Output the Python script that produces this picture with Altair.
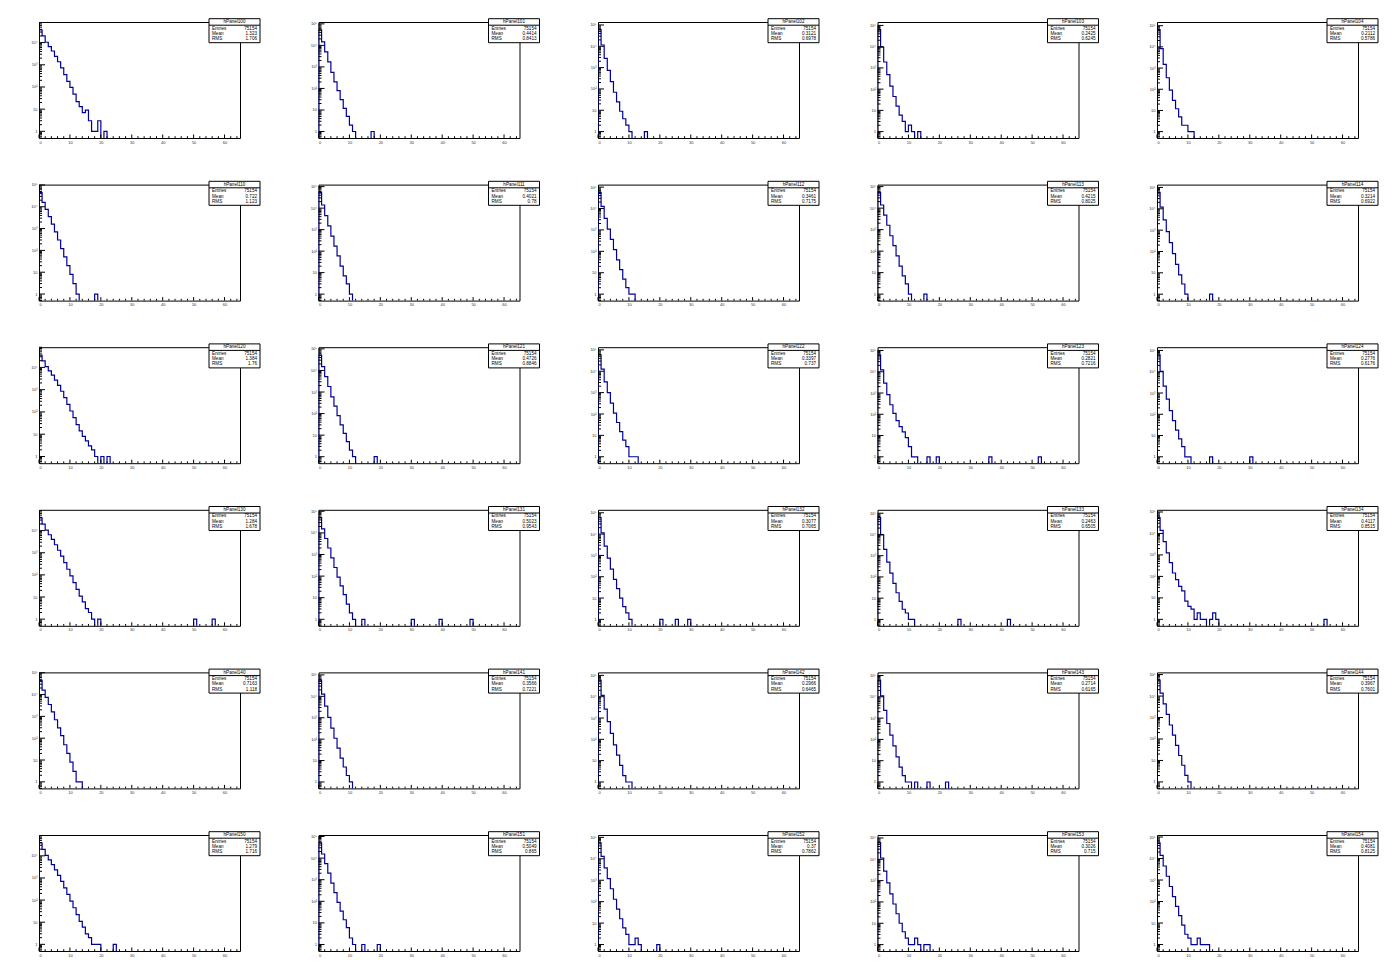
import altair as alt
import pandas as pd

XMAX = 65
YMIN = 0.5
FLOOR = 0.01
ENTRIES = "75154"
BLUE = "#000099"
FONT = "Liberation Sans"
PW, PH = 201, 116

NAMES = ["hPanel100", "hPanel101", "hPanel102", "hPanel103", "hPanel104",
         "hPanel110", "hPanel111", "hPanel112", "hPanel113", "hPanel114",
         "hPanel120", "hPanel121", "hPanel122", "hPanel123", "hPanel124",
         "hPanel130", "hPanel131", "hPanel132", "hPanel133", "hPanel134",
         "hPanel140", "hPanel141", "hPanel142", "hPanel143", "hPanel144",
         "hPanel150", "hPanel151", "hPanel152", "hPanel153", "hPanel154"]
MEANS = ["1.323", "0.4414", "0.3121", "0.2425", "0.2112",
         "0.722", "0.4021", "0.3461", "0.4215", "0.3214",
         "1.384", "0.4726", "0.3397", "0.2821", "0.2776",
         "1.284", "0.5023", "0.3077", "0.2463", "0.4117",
         "0.7163", "0.3566", "0.2966", "0.2714", "0.3967",
         "1.279", "0.5049", "0.37", "0.3026", "0.4081"]
RMSS = ["1.706", "0.8413", "0.6978", "0.6245", "0.5786",
        "1.123", "0.78", "0.7175", "0.8025", "0.6922",
        "1.76", "0.8846", "0.737", "0.7216", "0.6176",
        "1.678", "0.9543", "0.7065", "0.6505", "0.8515",
        "1.118", "0.7221", "0.6465", "0.6165", "0.7601",
        "1.716", "0.865", "0.7862", "0.715", "0.8125"]

h100 = [37000, 20000, 10400, 6600, 4200, 2400, 1370, 730, 360, 180, 96, 48, 22, 13, 7, 9, 3, 1, 1, 3, 0, 1]
h101 = [53000, 14500, 5000, 1700, 560, 200, 80, 30, 12, 5, 2, 1, 0, 0, 0, 0, 0, 1]
h102 = [60000, 11500, 2700, 750, 220, 70, 25, 9, 4, 2, 1, 0, 0, 0, 0, 1]
h103 = [63000, 9500, 1900, 480, 140, 45, 16, 6, 3, 1, 2, 1, 0, 1]
h104 = [65000, 8200, 1500, 350, 90, 30, 12, 5, 2, 2, 1, 1]
h110 = [45000, 16000, 7500, 3500, 1600, 700, 300, 120, 50, 20, 8, 3, 1, 0, 0, 0, 0, 0, 1]
h111 = [54000, 14000, 4500, 1500, 500, 170, 60, 20, 7, 3, 1]
h112 = [57000, 12500, 3500, 1100, 360, 120, 40, 14, 5, 2, 1, 1]
h113 = [54000, 14000, 4700, 1600, 520, 180, 60, 20, 7, 3, 1, 0, 0, 0, 0, 1]
h114 = [59000, 12000, 3000, 850, 260, 80, 25, 8, 3, 1, 0, 0, 0, 0, 0, 0, 0, 1]
h120 = [35000, 19500, 10800, 7000, 4500, 2700, 1550, 850, 440, 220, 110, 55, 27, 14, 8, 5, 3, 2, 1, 0, 1, 0, 1]
h121 = [52000, 15000, 5200, 1800, 600, 220, 80, 30, 12, 5, 2, 1, 0, 0, 0, 0, 0, 0, 1]
h122 = [58000, 12500, 3200, 1000, 320, 110, 40, 15, 6, 3, 1, 1, 1]
h123 = [62000, 12300, 2900, 840, 280, 110, 50, 26, 15, 8, 3, 1, 1, 0, 0, 0, 1, 0, 0, 1]
h124 = [62000, 10500, 2100, 520, 150, 50, 18, 7, 3, 1, 1, 0, 0, 0, 0, 0, 0, 1]
h130 = [38000, 19500, 10500, 6500, 4000, 2300, 1300, 700, 360, 180, 90, 45, 22, 11, 6, 3, 2, 1, 0, 1]
h131 = [51000, 15500, 5500, 2000, 700, 250, 90, 35, 14, 5, 2, 1, 0, 0, 1]
h132 = [60000, 11500, 2700, 750, 230, 75, 28, 10, 4, 2, 1]
h133 = [63000, 9600, 2000, 500, 150, 50, 18, 7, 3, 2, 1, 1]
h134 = [55000, 13800, 4200, 1240, 440, 144, 70, 34, 21, 7, 4, 3, 1, 2, 1, 1, 0, 1, 2, 1]
h140 = [45000, 16000, 7400, 3500, 1600, 700, 300, 130, 50, 20, 8, 3, 1, 1]
h141 = [57000, 12800, 3500, 1050, 330, 110, 38, 13, 5, 2, 1]
h142 = [60000, 11500, 2600, 680, 190, 55, 18, 6, 2, 1, 1]
h143 = [61000, 11000, 2300, 560, 160, 50, 15, 5, 2, 1, 1, 0, 1, 0, 0, 0, 1]
h144 = [55000, 13800, 4300, 1400, 450, 150, 50, 17, 6, 2, 1]
h150 = [38000, 19500, 10500, 6500, 4000, 2300, 1300, 700, 360, 180, 90, 45, 22, 11, 6, 3, 2, 1, 1, 1, 0, 0, 0, 0, 1]
h151 = [51000, 15500, 5500, 2000, 700, 250, 90, 35, 14, 6, 2, 1, 0, 0, 1, 0, 0, 0, 0, 1]
h152 = [56000, 13000, 3800, 1200, 400, 130, 45, 16, 6, 3, 1, 1, 2, 1, 0, 0, 0, 0, 0, 1]
h153 = [60000, 11500, 2800, 780, 240, 80, 28, 10, 4, 2, 1, 1, 2, 1, 0, 1, 1]
h154 = [54000, 14000, 4500, 1500, 500, 170, 60, 22, 8, 3, 2, 1, 1, 2, 1, 1, 1]

HISTS = [h100, h101, h102, h103, h104,
         h110, h111, h112, h113, h114,
         h120, h121, h122, h123, h124,
         h130, h131, h132, h133, h134,
         h140, h141, h142, h143, h144,
         h150, h151, h152, h153, h154]

# isolated far-out bins (bin index: count)
FAR = {
    "hPanel123": {36: 1, 52: 1},
    "hPanel124": {30: 1},
    "hPanel130": {50: 1, 56: 1},
    "hPanel131": {30: 1, 39: 1, 49: 1},
    "hPanel132": {20: 1, 25: 1, 29: 1},
    "hPanel133": {26: 1, 42: 1},
    "hPanel134": {54: 1},
    "hPanel143": {22: 1},
}

SUP = "['','','\u00b2','\u00b3','\u2074','\u2075','\u2076']"
YLABEL = ("datum.value < 1.5 ? '1' : datum.value < 15 ? '10' : '10' + "
          + SUP + "[round(log(datum.value)/LN10)]")


def panel(i):
    name = NAMES[i]
    c = list(HISTS[i])
    extra = FAR.get(name, {})
    n = max([len(c)] + [k + 1 for k in extra])
    full = c + [0] * (n - len(c))
    for k, v in extra.items():
        full[k] = v
    top = max(full) * 2.3
    ys = alt.Scale(type="log", domain=[YMIN, top], nice=False)
    xs = alt.Scale(domain=[0, XMAX], nice=False, zero=False)

    pts = [{"o": 0, "x": 0, "y": FLOOR}]
    for k, v in enumerate(full):
        pts.append({"o": k + 1, "x": k, "y": v if v > 0 else FLOOR})
    pts.append({"o": n + 1, "x": n, "y": FLOOR})

    ymaj = [10 ** d for d in range(0, 7) if 10 ** d <= top]
    ymin_ = []
    for d in range(-1, 6):
        for k in range(2, 10):
            v = k * 10.0 ** d
            if YMIN <= v <= top:
                ymin_.append(v)
    xmaj = list(range(0, 61, 10))
    xmin_ = [v for v in range(2, 65, 2) if v % 10 != 0]

    axx = alt.Axis(values=xmaj, labelFontSize=4, labelPadding=2, title=None,
                   ticks=False, domain=False, grid=False, labelColor="#333333")
    axy = alt.Axis(values=ymaj, labelExpr=YLABEL, labelFontSize=4, labelPadding=2, title=None,
                   ticks=False, domain=False, grid=False, labelColor="#333333")

    line = alt.Chart(pd.DataFrame(pts)).mark_line(
        interpolate="step-after", clip=True, color=BLUE, strokeWidth=1.2
    ).encode(
        x=alt.X("x:Q", scale=xs, axis=axx),
        y=alt.Y("y:Q", scale=ys, axis=axy),
        order="o:Q",
    )
    ytk_maj = alt.Chart(pd.DataFrame({"y": ymaj})).mark_rule(color="black", strokeWidth=1).encode(
        y=alt.Y("y:Q", scale=ys, axis=axy), x=alt.value(0), x2=alt.value(6))
    ytk_min = alt.Chart(pd.DataFrame({"y": ymin_})).mark_rule(color="black", strokeWidth=1).encode(
        y=alt.Y("y:Q", scale=ys, axis=axy), x=alt.value(0), x2=alt.value(3))
    xtk_maj = alt.Chart(pd.DataFrame({"x": xmaj})).mark_rule(color="black", strokeWidth=1).encode(
        x=alt.X("x:Q", scale=xs, axis=axx), y=alt.value(PH), y2=alt.value(PH - 3.5))
    xtk_min = alt.Chart(pd.DataFrame({"x": xmin_})).mark_rule(color="black", strokeWidth=1).encode(
        x=alt.X("x:Q", scale=xs, axis=axx), y=alt.value(PH), y2=alt.value(PH - 1.8))

    one = pd.DataFrame({"a": [0]})
    bx0, bx1, by0, by1 = 170, 221, -3.3, 20.7
    box = alt.Chart(one).mark_rect(fill="white", stroke="black", strokeWidth=1).encode(
        x=alt.value(bx0), x2=alt.value(bx1), y=alt.value(by0), y2=alt.value(by1))
    sep = alt.Chart(one).mark_rule(color="black", strokeWidth=1).encode(
        x=alt.value(bx0), x2=alt.value(bx1), y=alt.value(3.2))
    head = alt.Chart(one).mark_text(font=FONT, fontSize=4.6, align="center", baseline="middle").encode(
        x=alt.value((bx0 + bx1) / 2), y=alt.value(0.2), text=alt.value(name))
    rows = pd.DataFrame({"lab": ["Entries", "Mean", "RMS"],
                         "val": [ENTRIES, MEANS[i], RMSS[i]],
                         "py": [6.6, 12.0, 17.2]})
    labs = alt.Chart(rows).mark_text(font=FONT, fontSize=4.6, align="left", baseline="middle").encode(
        x=alt.value(bx0 + 3), y=alt.Y("py:Q", scale=None), text="lab:N")
    vals = alt.Chart(rows).mark_text(font=FONT, fontSize=4.6, align="right", baseline="middle").encode(
        x=alt.value(bx1 - 3), y=alt.Y("py:Q", scale=None), text="val:N")

    return alt.layer(line, ytk_maj, ytk_min, xtk_maj, xtk_min, box, sep, head, labs, vals).properties(
        width=PW, height=PH)


chart = alt.concat(
    *[panel(i) for i in range(30)], columns=5,
    spacing={"row": 46.6, "column": 78.5}, bounds="flush"
).properties(
    background="white",
    padding={"left": 22, "top": 9, "right": 5, "bottom": 5},
).configure_view(
    stroke="black", strokeWidth=1
).configure_axis(
    labelFont=FONT
)

chart.save("out.html", embed_options={"renderer": "svg", "actions": False})
